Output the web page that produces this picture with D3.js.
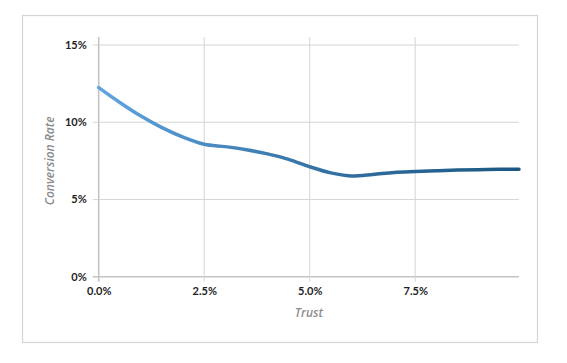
<!DOCTYPE html>
<html>
<head>
<meta charset="utf-8">
<script src="https://cdn.jsdelivr.net/npm/d3@7"></script>
<style>
  body { margin: 0; background: #fff; }
  svg { display: block; }
</style>
</head>
<body>
<div id="chart"></div>
<script>
// data (fractions)
var trust = [0, 0.005, 0.01, 0.015, 0.02, 0.025, 0.03, 0.035, 0.04, 0.045, 0.05,
             0.055, 0.06, 0.065, 0.07, 0.075, 0.08, 0.085, 0.09, 0.095, 0.0996];
var conversion = [0.1224, 0.1128, 0.1040, 0.0965, 0.0903, 0.0857, 0.0842, 0.0822, 0.0795, 0.0760, 0.0712,
                  0.0672, 0.0652, 0.0662, 0.0675, 0.0681, 0.0686, 0.0690, 0.0693, 0.0695, 0.0696];
var xTicks = [0, 0.025, 0.05, 0.075];
var yTicks = [0, 0.05, 0.10, 0.15];

var W = 567, H = 363;
var margin = { top: 45, left: 98.7, right: 48, bottom: 86.3 };
var width = W - margin.left - margin.right,
    height = H - margin.top - margin.bottom;

var svg = d3.select("#chart").append("svg")
  .attr("width", W).attr("height", H);

// outer chart border
svg.append("rect")
  .attr("x", 22.5).attr("y", 15.5)
  .attr("width", 515).attr("height", 327)
  .attr("fill", "none").attr("stroke", "#d4d4d4").attr("stroke-width", 1.2);

var g = svg.append("g")
  .attr("transform", "translate(" + margin.left + "," + margin.top + ")");

var x = d3.scaleLinear().domain([0, 0.0996]).range([0, width]);
var y = d3.scaleLinear().domain([0, 0.15]).range([height, 0]);

// grid lines
g.selectAll(".hgrid").data(yTicks).enter().append("line")
  .attr("x1", -6).attr("x2", width)
  .attr("y1", function(d) { return y(d); }).attr("y2", function(d) { return y(d); })
  .attr("stroke", function(d) { return d == 0 ? "#c4c4c4" : "#d6d6d6"; })
  .attr("stroke-width", function(d) { return d == 0 ? 1.6 : 1; });

g.selectAll(".vgrid").data(xTicks).enter().append("line")
  .attr("y1", -8).attr("y2", height + 5)
  .attr("x1", function(d) { return x(d); }).attr("x2", function(d) { return x(d); })
  .attr("stroke", function(d) { return d == 0 ? "#c4c4c4" : "#d6d6d6"; })
  .attr("stroke-width", function(d) { return d == 0 ? 1.6 : 1; });

// axes (labels only)
var yAxis = d3.axisLeft(y).tickValues(yTicks).tickSize(0).tickPadding(12)
  .tickFormat(d3.format(".0%"));
var xAxis = d3.axisBottom(x).tickValues(xTicks).tickSize(0).tickPadding(11)
  .tickFormat(d3.format(".1%"));

var ya = g.append("g").call(yAxis);
var xa = g.append("g").attr("transform", "translate(0," + height + ")").call(xAxis);
[ya, xa].forEach(function(a) {
  a.select(".domain").remove();
  a.selectAll("text")
    .style("font-family", "Lato, 'Open Sans', sans-serif")
    .style("font-size", "11px")
    .style("font-weight", "bold")
    .attr("fill", "#1e1e1e");
});

// line with gradient colour
var grad = svg.append("defs").append("linearGradient")
  .attr("id", "lineGrad")
  .attr("gradientUnits", "userSpaceOnUse")
  .attr("x1", x(0)).attr("x2", x(0.0996)).attr("y1", 0).attr("y2", 0);
grad.append("stop").attr("offset", "0%").attr("stop-color", "#5fa5e0");
grad.append("stop").attr("offset", "50%").attr("stop-color", "#3773a6");
grad.append("stop").attr("offset", "100%").attr("stop-color", "#1a5882");

var line = d3.line()
  .x(function(d, i) { return x(trust[i]); })
  .y(function(d) { return y(d); })
  .curve(d3.curveMonotoneX);

g.append("path")
  .datum(conversion)
  .attr("d", line)
  .attr("fill", "none")
  .attr("stroke", "url(#lineGrad)")
  .attr("stroke-width", 3.5)
  .attr("stroke-linecap", "round");

// axis titles
g.append("text")
  .attr("x", width / 2).attr("y", height + 40)
  .attr("text-anchor", "middle")
  .style("font-family", "'Open Sans', sans-serif")
  .style("font-size", "12px").style("font-style", "italic").style("font-weight", 600)
  .attr("fill", "#8c8c8c")
  .text("Trust");

g.append("text")
  .attr("transform", "translate(" + (-45) + "," + (height / 2) + ") rotate(-90)")
  .attr("text-anchor", "middle")
  .style("font-family", "'Open Sans', sans-serif")
  .style("font-size", "12px").style("font-style", "italic").style("font-weight", 600)
  .attr("fill", "#8c8c8c")
  .text("Conversion Rate");
</script>
</body>
</html>
